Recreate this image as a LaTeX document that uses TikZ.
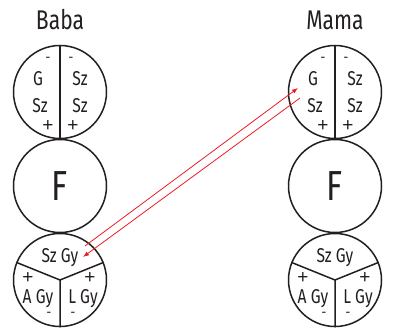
\documentclass[tikz,border=0pt]{standalone}
\usepackage{fontspec}
\setmainfont{Fira Sans}[FakeStretch=0.78]
\newfontfamily\signfont{Liberation Sans}
\usetikzlibrary{arrows.meta,calc}
\definecolor{ink}{RGB}{35,31,32}
\definecolor{linkred}{RGB}{237,28,36}
\tikzset{
  cell/.style={circle,draw=ink,line width=1.5pt,minimum size=93pt,inner sep=0pt,text=ink},
  txt/.style={text=ink,inner sep=0pt,anchor=base,font=\fontsize{20}{20}\selectfont},
  plus/.style={text=ink,inner sep=0pt,font=\signfont\fontsize{19}{19}\selectfont},
  minus/.style={text=ink,inner sep=0pt,anchor=base,font=\signfont\fontsize{14}{14}\selectfont},
  link/.style={linkred,line width=0.8pt,-{Latex[length=6pt,width=4.5pt]}}
}
\begin{document}
\begin{tikzpicture}[x=1pt,y=-1pt]
\useasboundingbox (0,0) rectangle (394,332);
\foreach \who/\cx/\title in {baba/60/Baba,mama/335/Mama}{
  % parent column
  \node[txt,font=\fontsize{27}{27}\selectfont] (\who-name) at (\cx,30) {\title};
  \node[cell] (\who-top) at (\cx,92) {};
  \node[cell,font=\fontsize{42}{42}\selectfont] (\who-f) at (\cx,186) {F};
  \node[cell] (\who-bot) at (\cx,280) {};
  \draw[ink,line width=1.5pt] (\who-top.north) -- (\who-top.south);
  \draw[ink,line width=1.5pt] (\who-bot.158) -- (\who-bot.center) -- (\who-bot.22)
    (\who-bot.center) -- (\who-bot.south);
  % top circle
  \node[txt] (\who-g) at ($(\who-top)+(-22,-7)$) {G};
  \node[txt] (\who-sza) at ($(\who-top)+(20,-7)$) {Sz};
  \node[txt] (\who-szb) at ($(\who-top)+(-20,20)$) {Sz};
  \node[txt] (\who-szc) at ($(\who-top)+(20,20)$) {Sz};
  \node[minus] (\who-ma) at ($(\who-top)+(-12,-31)$) {-};
  \node[minus] (\who-mb) at ($(\who-top)+(11,-31)$) {-};
  \node[plus] (\who-pa) at ($(\who-top)+(-12,34)$) {+};
  \node[plus] (\who-pb) at ($(\who-top)+(13,34)$) {+};
  % bottom circle
  \node[txt] (\who-szgy) at ($(\who-bot)+(0,-18)$) {Sz Gy};
  \node[txt] (\who-agy) at ($(\who-bot)+(-22,23)$) {A Gy};
  \node[txt] (\who-lgy) at ($(\who-bot)+(23,23)$) {L Gy};
  \node[plus] (\who-pc) at ($(\who-bot)+(-32,-2)$) {+};
  \node[plus] (\who-pd) at ($(\who-bot)+(30,-2)$) {+};
  \node[minus] (\who-mc) at ($(\who-bot)+(-11,36)$) {-};
  \node[minus] (\who-md) at ($(\who-bot)+(13,36)$) {-};
}
\coordinate (gyOut) at ($(baba-bot)+(25,-34)$);
\coordinate (gyIn) at ($(baba-bot)+(23,-23)$);
\coordinate (gIn) at ($(mama-top)+(-37,-4)$);
\coordinate (szOut) at ($(mama-top)+(-35,6)$);
\draw[link] (gyOut) -- (gIn);
\draw[link] (szOut) -- (gyIn);
\end{tikzpicture}
\end{document}
